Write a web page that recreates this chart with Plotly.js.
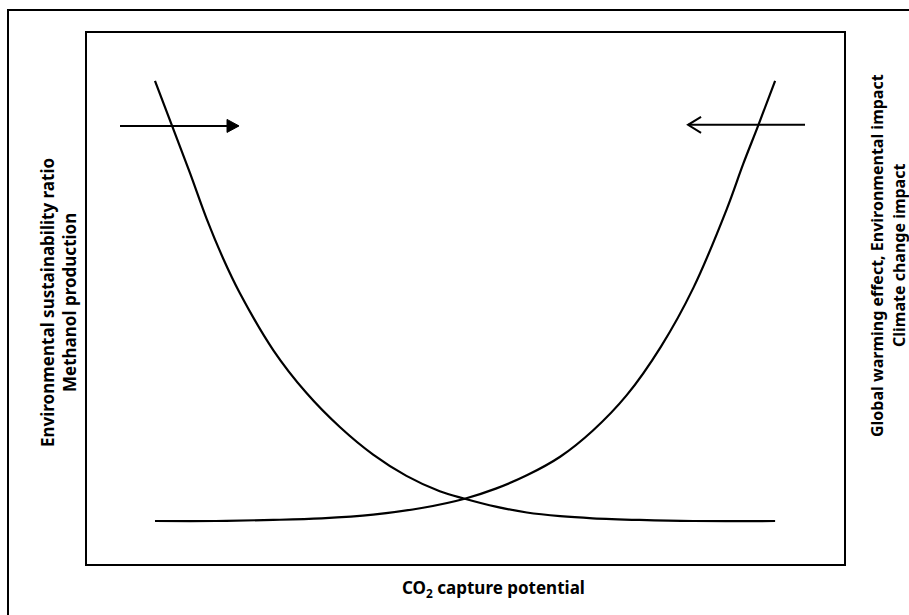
<!DOCTYPE html>
<html>
<head>
<meta charset="utf-8">
<script src="https://cdn.plot.ly/plotly-3.0.1.min.js"></script>
<style>html,body{margin:0;padding:0;background:#fff;}#chart{width:909px;height:615px;}</style>
</head>
<body>
<div id="chart"></div>
<script>
// Curves (arbitrary 0-100 units on both axes)
var sustainX = [8.98, 11.19, 13.61, 15.81, 18.0, 20.2, 24.6, 29.0, 33.4, 37.8, 42.2, 46.6, 49.9, 54.0, 58.1, 62.5, 66.8, 73.0, 80.1, 90.9];
var sustainY = [91.0, 82.7, 73.6, 65.0, 57.5, 51.0, 40.3, 32.2, 25.8, 20.6, 16.6, 13.7, 12.3, 10.8, 9.7, 9.0, 8.6, 8.3, 8.1, 8.1];

var impactX = [8.98, 17.0, 24.6, 31.0, 37.8, 44.4, 49.9, 54.0, 58.1, 62.5, 66.8, 71.3, 75.8, 80.1, 84.5, 86.7, 88.7, 90.9];
var impactY = [8.1, 8.1, 8.3, 8.6, 9.3, 10.6, 12.3, 14.2, 16.7, 20.2, 25.1, 31.8, 40.9, 52.0, 66.8, 75.4, 82.7, 91.0];

// Arrows: [left arrow (points right), right arrow (points left)]
var arrowTailX = [4.36, 94.85];
var arrowHeadX = [19.95, 79.4];
var arrowY = [82.5, 82.7];

var xTitle = 'CO<sub>2</sub> capture potential';
var leftTitle = ['Environmental sustainability ratio', 'Methanol production'];
var rightTitle = ['Global warming effect, Environmental impact', 'Climate change impact'];

var FONT = 'Noto Sans, Open Sans, sans-serif';
var lineStyle = {color: '#000', width: 2.2, shape: 'spline', smoothing: 1};

var traces = [
  {x: sustainX, y: sustainY, mode: 'lines', line: lineStyle, hoverinfo: 'skip'},
  {x: impactX, y: impactY, mode: 'lines', line: lineStyle, hoverinfo: 'skip'}
];

var titleFont = {family: FONT, size: 17, color: '#000', weight: 'bold'};
var rightFont = {family: FONT, size: 16, color: '#000', weight: 'bold'};

function px2paperX(p) { return (p - 87) / 757; }
function px2paperY(p) { return (564 - p) / 531; }

var annotations = [
  {xref: 'paper', yref: 'paper', x: px2paperX(493), y: px2paperY(588), xanchor: 'center', yanchor: 'middle',
   text: '<b>' + xTitle + '</b>', showarrow: false, font: titleFont},
  {xref: 'paper', yref: 'paper', x: px2paperX(47), y: px2paperY(303), xanchor: 'center', yanchor: 'middle', textangle: -90,
   text: '<b>' + leftTitle[0] + '</b>', showarrow: false, font: titleFont},
  {xref: 'paper', yref: 'paper', x: px2paperX(69), y: px2paperY(303), xanchor: 'center', yanchor: 'middle', textangle: -90,
   text: '<b>' + leftTitle[1] + '</b>', showarrow: false, font: titleFont},
  {xref: 'paper', yref: 'paper', x: px2paperX(877), y: px2paperY(256), xanchor: 'center', yanchor: 'middle', textangle: -90,
   text: '<b>' + rightTitle[0] + '</b>', showarrow: false, font: rightFont},
  {xref: 'paper', yref: 'paper', x: px2paperX(899), y: px2paperY(256), xanchor: 'center', yanchor: 'middle', textangle: -90,
   text: '<b>' + rightTitle[1] + '</b>', showarrow: false, font: rightFont}
];

var black = {color: '#000', width: 2};
var shapes = [
  // outer border of the figure
  {type: 'rect', xref: 'paper', yref: 'paper', x0: px2paperX(8), x1: 1.2, y0: -0.2, y1: px2paperY(10),
   line: black, fillcolor: 'rgba(0,0,0,0)'},
  // left arrow shaft and filled head
  {type: 'line', xref: 'x', yref: 'y', x0: arrowTailX[0], x1: arrowHeadX[0], y0: arrowY[0], y1: arrowY[0], line: black},
  {type: 'path', xref: 'x', yref: 'y', xsizemode: 'pixel', ysizemode: 'pixel',
   xanchor: arrowHeadX[0], yanchor: arrowY[0], path: 'M 1 0 L -11 6.5 L -11 -6.5 Z',
   line: {color: '#000', width: 1}, fillcolor: '#000'},
  // right arrow shaft and open chevron head
  {type: 'line', xref: 'x', yref: 'y', x0: arrowTailX[1], x1: arrowHeadX[1], y0: arrowY[1], y1: arrowY[1], line: black},
  {type: 'path', xref: 'x', yref: 'y', xsizemode: 'pixel', ysizemode: 'pixel',
   xanchor: arrowHeadX[1], yanchor: arrowY[1], path: 'M 13 8 L 0 0 L 13 -8',
   line: black}
];

var axisBase = {showgrid: false, zeroline: false, showticklabels: false, ticks: '',
  showline: true, mirror: true, linecolor: '#000', linewidth: 2, fixedrange: true};

var layout = {
  width: 909, height: 615,
  margin: {l: 87, r: 65, t: 33, b: 51, pad: 0},
  paper_bgcolor: '#fff', plot_bgcolor: '#fff',
  showlegend: false,
  xaxis: Object.assign({}, axisBase, {range: [0, 100]}),
  yaxis: Object.assign({}, axisBase, {range: [0, 100]}),
  annotations: annotations,
  shapes: shapes
};

Plotly.newPlot('chart', traces, layout, {displayModeBar: false, staticPlot: true});
</script>
</body>
</html>
